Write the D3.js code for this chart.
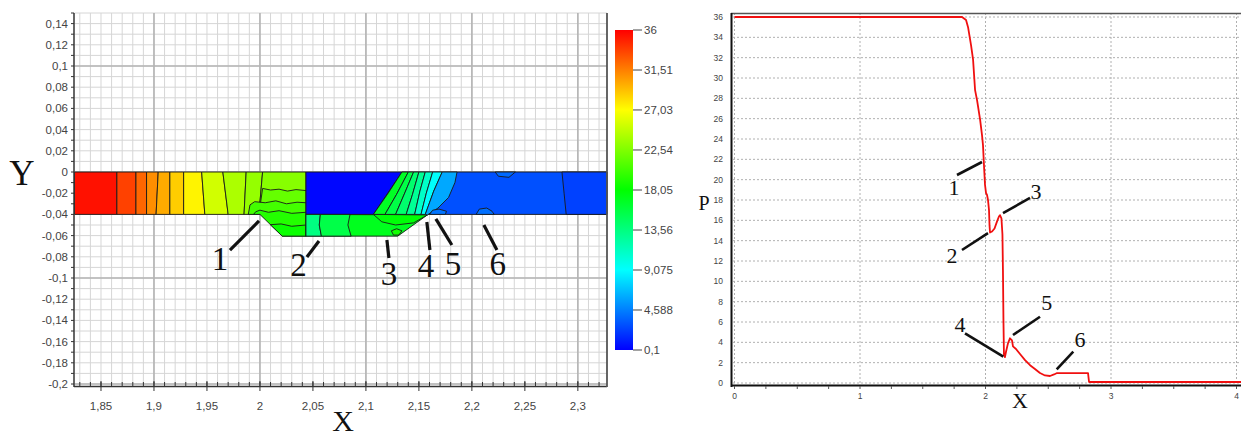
<!DOCTYPE html>
<html><head><meta charset="utf-8">
<script src="https://cdn.jsdelivr.net/npm/d3@7"></script>
<style>body{margin:0;background:#fff;}svg{display:block;}</style>
</head><body>
<svg id="c" width="1241" height="439"></svg>
<script>
// ================= DATA =================
// left chart (pressure field)
const xTicksL = [1.85, 1.9, 1.95, 2, 2.05, 2.1, 2.15, 2.2, 2.25, 2.3];
const yTicksL = [0.14, 0.12, 0.1, 0.08, 0.06, 0.04, 0.02, 0, -0.02, -0.04, -0.06, -0.08, -0.1, -0.12, -0.14, -0.16, -0.18, -0.2];
const cbTicks = [36, 31.51, 27.03, 22.54, 18.05, 13.56, 9.075, 4.588, 0.1];
const jetStops = [0.1, 9.075, 18.05, 27.03, 36];
const jetColors = ["#0000ff", "#00ffff", "#00ff00", "#ffff00", "#ff0000"];

// vertical bands of the channel strip (y from 0 to -0.04)
const bandTopX = [1.825, 1.865, 1.883, 1.893, 1.904, 1.915, 1.928, 1.945, 1.965, 1.987, 2.0025];
const bandBotX = [1.825, 1.865, 1.883, 1.893, 1.902, 1.915, 1.928, 1.948, 1.970, 1.985, 1.999];
const bandP    = [35.4, 33.7, 32.4, 31.0, 30.0, 28.8, 27.4, 25.4, 24.1, 23.3];

// other contour zones: [pressure, polygon in (x, y) data units]
const zones = [
  [22.8, [[2.0025,0],[2.0434,0],[2.0434,-0.04],[1.999,-0.04]]],
  [21.6, [[2.0025,-0.0155],[2.01,-0.017],[2.018,-0.0162],[2.026,-0.018],[2.034,-0.0166],[2.0434,-0.0175],[2.0434,-0.04],[1.999,-0.04]]],
  [20.4, [[1.989,-0.04],[1.9906,-0.031],[1.995,-0.028],[2.005,-0.029],[2.015,-0.0272],[2.025,-0.030],[2.035,-0.0285],[2.0434,-0.029],[2.0434,-0.04]]],
  [19.3, [[1.994,-0.04],[1.996,-0.0375],[2.0,-0.036],[2.008,-0.038],[2.018,-0.0365],[2.03,-0.039],[2.0434,-0.038],[2.0434,-0.0605],[2.021,-0.0605],[2.0,-0.04]]],
  [18.4, [[2.0098,-0.0497],[2.02,-0.049],[2.03,-0.0512],[2.0434,-0.050],[2.0434,-0.0605],[2.021,-0.0605]]],
  // right blue part of strip
  [2.9, [[2.134,0],[2.3275,0],[2.3275,-0.04],[2.107,-0.04]]],
  [2.4, [[2.285,0],[2.3275,0],[2.3275,-0.04],[2.289,-0.04],[2.287,-0.02]]],
  [0.3, [[2.0434,0],[2.134,0],[2.107,-0.04],[2.0434,-0.04]]],
  // trapezoid under blue
  [17.0, [[2.0434,-0.04],[2.158,-0.0405],[2.130,-0.0605],[2.0434,-0.0605]]],
  [13.5, [[2.0434,-0.04],[2.057,-0.04],[2.056,-0.05],[2.058,-0.0605],[2.0434,-0.0605]]],
  [15.5, [[2.057,-0.04],[2.085,-0.04],[2.083,-0.05],[2.086,-0.0605],[2.058,-0.0605],[2.056,-0.05]]],
  [17.8, [[2.107,-0.04],[2.158,-0.0405],[2.145,-0.048],[2.128,-0.050],[2.115,-0.047]]],
  [18.6, [[2.124,-0.0555],[2.129,-0.0535],[2.134,-0.0555],[2.131,-0.0595],[2.126,-0.0595]]],
  // fan of contours right of the blue block
  [16.8, [[2.107,-0.04],[2.121,-0.02],[2.134,0],[2.140,0],[2.129,-0.021],[2.118,-0.04]]],
  [15.6, [[2.118,-0.04],[2.129,-0.021],[2.140,0],[2.145,0],[2.137,-0.019],[2.128,-0.04]]],
  [14.2, [[2.128,-0.04],[2.137,-0.019],[2.145,0],[2.150,0],[2.144,-0.021],[2.138,-0.04]]],
  [12.8, [[2.138,-0.04],[2.144,-0.021],[2.150,0],[2.156,0],[2.151,-0.018],[2.146,-0.04]]],
  [11.0, [[2.146,-0.04],[2.151,-0.018],[2.156,0],[2.163,0],[2.157,-0.02],[2.152,-0.04]]],
  [9.2,  [[2.152,-0.04],[2.157,-0.02],[2.163,0],[2.172,0],[2.164,-0.018],[2.156,-0.04]]],
  [6.0,  [[2.156,-0.04],[2.164,-0.018],[2.172,0],[2.186,0],[2.184,-0.01],[2.178,-0.024],[2.168,-0.034],[2.158,-0.0405]]],
  // small blobs in the blue region
  [4.2, [[2.160,-0.04],[2.163,-0.036],[2.169,-0.035],[2.176,-0.037],[2.175,-0.04]]],
  [4.0, [[2.204,-0.04],[2.207,-0.035],[2.214,-0.034],[2.219,-0.037],[2.221,-0.04]]],
  [3.8, [[2.222,0],[2.225,-0.004],[2.235,-0.005],[2.241,0]]]
];

// annotations on the left chart: label, label x, label baseline y, leader from (x1,y1) to (x2,y2)
const annL = [
  ["1", 1.9623, -0.0925, 1.9717, -0.0736, 1.9991, -0.0462],
  ["2", 2.0363, -0.0981, 2.0443, -0.0802, 2.0557, -0.0651],
  ["3", 2.1217, -0.1066, 2.1217, -0.0811, 2.1198, -0.0642],
  ["4", 2.1566, -0.0991, 2.1604, -0.0736, 2.1575, -0.0472],
  ["5", 2.1821, -0.0972, 2.1811, -0.0689, 2.1660, -0.0443],
  ["6", 2.2245, -0.0972, 2.2236, -0.0736, 2.2113, -0.0500]
];

// right chart: P(X)
const pX = [0, 1.813, 1.845, 1.861, 1.885, 1.901, 1.917, 1.933, 1.957, 1.972, 1.980, 1.988, 1.996, 2.004, 2.012, 2.020, 2.028, 2.032, 2.036, 2.052, 2.072, 2.092, 2.108, 2.116, 2.127, 2.135, 2.139, 2.143, 2.147, 2.155, 2.163, 2.179, 2.195, 2.211, 2.219, 2.243, 2.275, 2.315, 2.355, 2.394, 2.434, 2.474, 2.514, 2.546, 2.570, 2.817, 2.825, 4.04];
const pP = [36, 36, 35.7, 35.0, 33.2, 31.8, 28.8, 27.8, 25.9, 24.4, 23.4, 21.4, 19.5, 18.7, 18.5, 18.0, 17.0, 15.5, 14.8, 14.9, 15.2, 15.9, 16.4, 16.5, 16.2, 14.6, 11.1, 6.2, 2.75, 2.55, 3.05, 3.9, 4.4, 4.2, 3.6, 3.35, 2.85, 2.25, 1.75, 1.38, 0.98, 0.74, 0.69, 0.84, 0.98, 0.98, 0.1, 0.1];
const xTicksR = [0, 1, 2, 3, 4];
const yTicksR = [0, 2, 4, 6, 8, 10, 12, 14, 16, 18, 20, 22, 24, 26, 28, 30, 32, 34, 36];
const annR = [
  ["1", 1.749, 18.49, 1.7729, 20.46, 1.9721, 21.74],
  ["2", 1.733, 11.80, 1.8127, 13.08, 2.0199, 14.75],
  ["3", 2.402, 18.10, 2.1394, 16.72, 2.3546, 18.20],
  ["4", 1.797, 5.02, 1.8367, 4.89, 2.1418, 2.59],
  ["5", 2.489, 7.18, 2.2191, 4.72, 2.4343, 6.52],
  ["6", 2.753, 3.54, 2.5673, 1.35, 2.6996, 3.08]
];

// ================= DRAWING =================
const svg = d3.select("#c");
const serif = "'Liberation Serif','Times New Roman',serif";
const sans = "'Liberation Sans',Arial,sans-serif";
const fmt = v => String(v).replace(".", ",");

// ---------- left chart ----------
const xL = d3.scaleLinear().domain([1.825, 2.3275]).range([74.5, 607]);
const yL = d3.scaleLinear().domain([-0.2, 0.15]).range([384, 13]);
const color = d3.scaleLinear().domain(jetStops).range(jetColors);

const gL = svg.append("g");
const minorX = d3.range(183, 233).map(i => i / 100);
const minorY = d3.range(-20, 16).map(i => i / 100);
const majorX = [1.9, 2.0, 2.1, 2.2, 2.3];
const majorY = [0.1, 0, -0.1, -0.2];
gL.selectAll(".mx").data(minorX).join("line")
  .attr("x1", d => xL(d)).attr("x2", d => xL(d)).attr("y1", yL(0.15)).attr("y2", yL(-0.2))
  .attr("stroke", "#d6d6d6").attr("stroke-width", 1);
gL.selectAll(".my").data(minorY).join("line")
  .attr("y1", d => yL(d)).attr("y2", d => yL(d)).attr("x1", xL(1.825)).attr("x2", xL(2.3275))
  .attr("stroke", "#d6d6d6").attr("stroke-width", 1);
gL.selectAll(".Mx").data(majorX).join("line")
  .attr("x1", d => xL(d)).attr("x2", d => xL(d)).attr("y1", yL(0.15)).attr("y2", yL(-0.2))
  .attr("stroke", "#b4b4b4").attr("stroke-width", 1.6);
gL.selectAll(".My").data(majorY).join("line")
  .attr("y1", d => yL(d)).attr("y2", d => yL(d)).attr("x1", xL(1.825)).attr("x2", xL(2.3275))
  .attr("stroke", "#b4b4b4").attr("stroke-width", 1.6);

// contour fill
const toPath = pts => "M" + pts.map(p => xL(p[0]) + "," + yL(p[1])).join("L") + "Z";
const bands = bandP.map((p, i) => [p, [[bandTopX[i], 0], [bandTopX[i + 1], 0], [bandBotX[i + 1], -0.04], [bandBotX[i], -0.04]]]);
const allZones = bands.concat(zones);
gL.selectAll(".zone").data(allZones).join("path")
  .attr("d", d => toPath(d[1]))
  .attr("fill", d => color(d[0]))
  .attr("stroke", "#1a1a1a").attr("stroke-width", 0.9).attr("stroke-linejoin", "round");

// axes
gL.append("line").attr("x1", 74).attr("x2", 74).attr("y1", 13).attr("y2", 387).attr("stroke", "#333").attr("stroke-width", 1.5);
gL.append("line").attr("x1", 74).attr("x2", 607).attr("y1", 386.5).attr("y2", 386.5).attr("stroke", "#333").attr("stroke-width", 1.5);
gL.append("line").attr("x1", 607).attr("x2", 607).attr("y1", 13).attr("y2", 387).attr("stroke", "#555").attr("stroke-width", 1.8);
gL.selectAll(".ytk").data(minorY).join("line")
  .attr("x1", 71).attr("x2", 74).attr("y1", d => yL(d)).attr("y2", d => yL(d)).attr("stroke", "#333");
gL.selectAll(".xtk").data(minorX).join("line")
  .attr("x1", d => xL(d)).attr("x2", d => xL(d)).attr("y1", 382).attr("y2", 386).attr("stroke", "#333");
gL.selectAll(".xtkM").data(xTicksL).join("line")
  .attr("x1", d => xL(d)).attr("x2", d => xL(d)).attr("y1", 381).attr("y2", 391).attr("stroke", "#333");
gL.selectAll(".ylab").data(yTicksL).join("text")
  .attr("x", 68).attr("y", d => yL(d) + 4).attr("text-anchor", "end")
  .attr("font-family", sans).attr("font-size", 11.5).attr("fill", "#444").text(fmt);
gL.selectAll(".xlab").data(xTicksL).join("text")
  .attr("x", d => xL(d)).attr("y", 410).attr("text-anchor", "middle")
  .attr("font-family", sans).attr("font-size", 11.5).attr("fill", "#444").text(fmt);
gL.append("text").attr("x", 22).attr("y", 185).attr("text-anchor", "middle")
  .attr("font-family", serif).attr("font-size", 35).attr("fill", "#111").text("Y");
gL.append("text").attr("x", 343).attr("y", 431).attr("text-anchor", "middle")
  .attr("font-family", serif).attr("font-size", 30).attr("fill", "#111").text("X");

// annotations left
gL.selectAll(".al").data(annL).join("line")
  .attr("x1", d => xL(d[3])).attr("y1", d => yL(d[4])).attr("x2", d => xL(d[5])).attr("y2", d => yL(d[6]))
  .attr("stroke", "#111").attr("stroke-width", 3.2);
gL.selectAll(".at").data(annL).join("text")
  .attr("x", d => xL(d[1])).attr("y", d => yL(d[2])).attr("text-anchor", "middle")
  .attr("font-family", serif).attr("font-size", 33).attr("fill", "#111").text(d => d[0]);

// colorbar
const yCB = d3.scaleLinear().domain([0.1, 36]).range([350, 30]);
const defs = svg.append("defs");
const grad = defs.append("linearGradient").attr("id", "jet").attr("x1", 0).attr("x2", 0).attr("y1", 1).attr("y2", 0);
grad.selectAll("stop").data(jetStops).join("stop")
  .attr("offset", d => (d - 0.1) / (36 - 0.1)).attr("stop-color", d => color(d));
svg.append("rect").attr("x", 615).attr("y", yCB(36)).attr("width", 18).attr("height", yCB(0.1) - yCB(36)).attr("fill", "url(#jet)");
svg.selectAll(".cbt").data(cbTicks).join("line")
  .attr("x1", 633).attr("x2", 642).attr("y1", d => yCB(d)).attr("y2", d => yCB(d)).attr("stroke", "#444");
svg.selectAll(".cbl").data(cbTicks).join("text")
  .attr("x", 644).attr("y", d => yCB(d) + 4).attr("font-family", sans).attr("font-size", 11.5).attr("fill", "#444").text(fmt);

// ---------- right chart ----------
const xR = d3.scaleLinear().domain([0, 4]).range([734.5, 1236.5]);
const yR = d3.scaleLinear().domain([0, 36]).range([383, 17]);
const gR = svg.append("g");
gR.selectAll(".gy").data(yTicksR).join("line")
  .attr("x1", 733).attr("x2", 1241).attr("y1", d => yR(d)).attr("y2", d => yR(d))
  .attr("stroke", "#b0b0b0").attr("stroke-width", 1).attr("stroke-dasharray", "2,2");
gR.selectAll(".gx").data(xTicksR).join("line")
  .attr("x1", d => xR(d)).attr("x2", d => xR(d)).attr("y1", 13).attr("y2", 385)
  .attr("stroke", "#b0b0b0").attr("stroke-width", 1).attr("stroke-dasharray", "2,2");
gR.append("line").attr("x1", 731).attr("x2", 1241).attr("y1", 13.5).attr("y2", 13.5).attr("stroke", "#555").attr("stroke-width", 1.5);
gR.append("line").attr("x1", 731.5).attr("x2", 731.5).attr("y1", 13).attr("y2", 387).attr("stroke", "#111").attr("stroke-width", 2);
gR.append("line").attr("x1", 731).attr("x2", 1241).attr("y1", 385.5).attr("y2", 385.5).attr("stroke", "#111").attr("stroke-width", 2);
gR.selectAll(".mt").data(d3.range(0, 17).map(i => i / 4)).join("line")
  .attr("x1", d => xR(d)).attr("x2", d => xR(d)).attr("y1", 386).attr("y2", 389).attr("stroke", "#555");
gR.selectAll(".ylr").data(yTicksR).join("text")
  .attr("x", 723).attr("y", d => yR(d) + 3).attr("text-anchor", "end")
  .attr("font-family", sans).attr("font-size", 8.5).attr("fill", "#444").text(d => d);
gR.selectAll(".xlr").data(xTicksR).join("text")
  .attr("x", d => xR(d)).attr("y", 399).attr("text-anchor", "middle")
  .attr("font-family", sans).attr("font-size", 8.5).attr("fill", "#444").text(d => d);

const line = d3.line().x((d, i) => xR(pX[i])).y((d, i) => yR(pP[i]));
gR.append("path").attr("d", line(pP)).attr("fill", "none").attr("stroke", "#f01010").attr("stroke-width", 1.8).attr("stroke-linejoin", "round");

gR.selectAll(".al").data(annR).join("line")
  .attr("x1", d => xR(d[3])).attr("y1", d => yR(d[4])).attr("x2", d => xR(d[5])).attr("y2", d => yR(d[6]))
  .attr("stroke", "#111").attr("stroke-width", 2.6);
gR.selectAll(".at").data(annR).join("text")
  .attr("x", d => xR(d[1])).attr("y", d => yR(d[2])).attr("text-anchor", "middle")
  .attr("font-family", serif).attr("font-size", 22).attr("fill", "#111").text(d => d[0]);
gR.append("text").attr("x", 704).attr("y", 210).attr("text-anchor", "middle")
  .attr("font-family", serif).attr("font-size", 20).attr("fill", "#111").text("P");
gR.append("text").attr("x", 1020).attr("y", 408).attr("text-anchor", "middle")
  .attr("font-family", serif).attr("font-size", 22).attr("fill", "#111").text("X");
</script>
</body></html>
